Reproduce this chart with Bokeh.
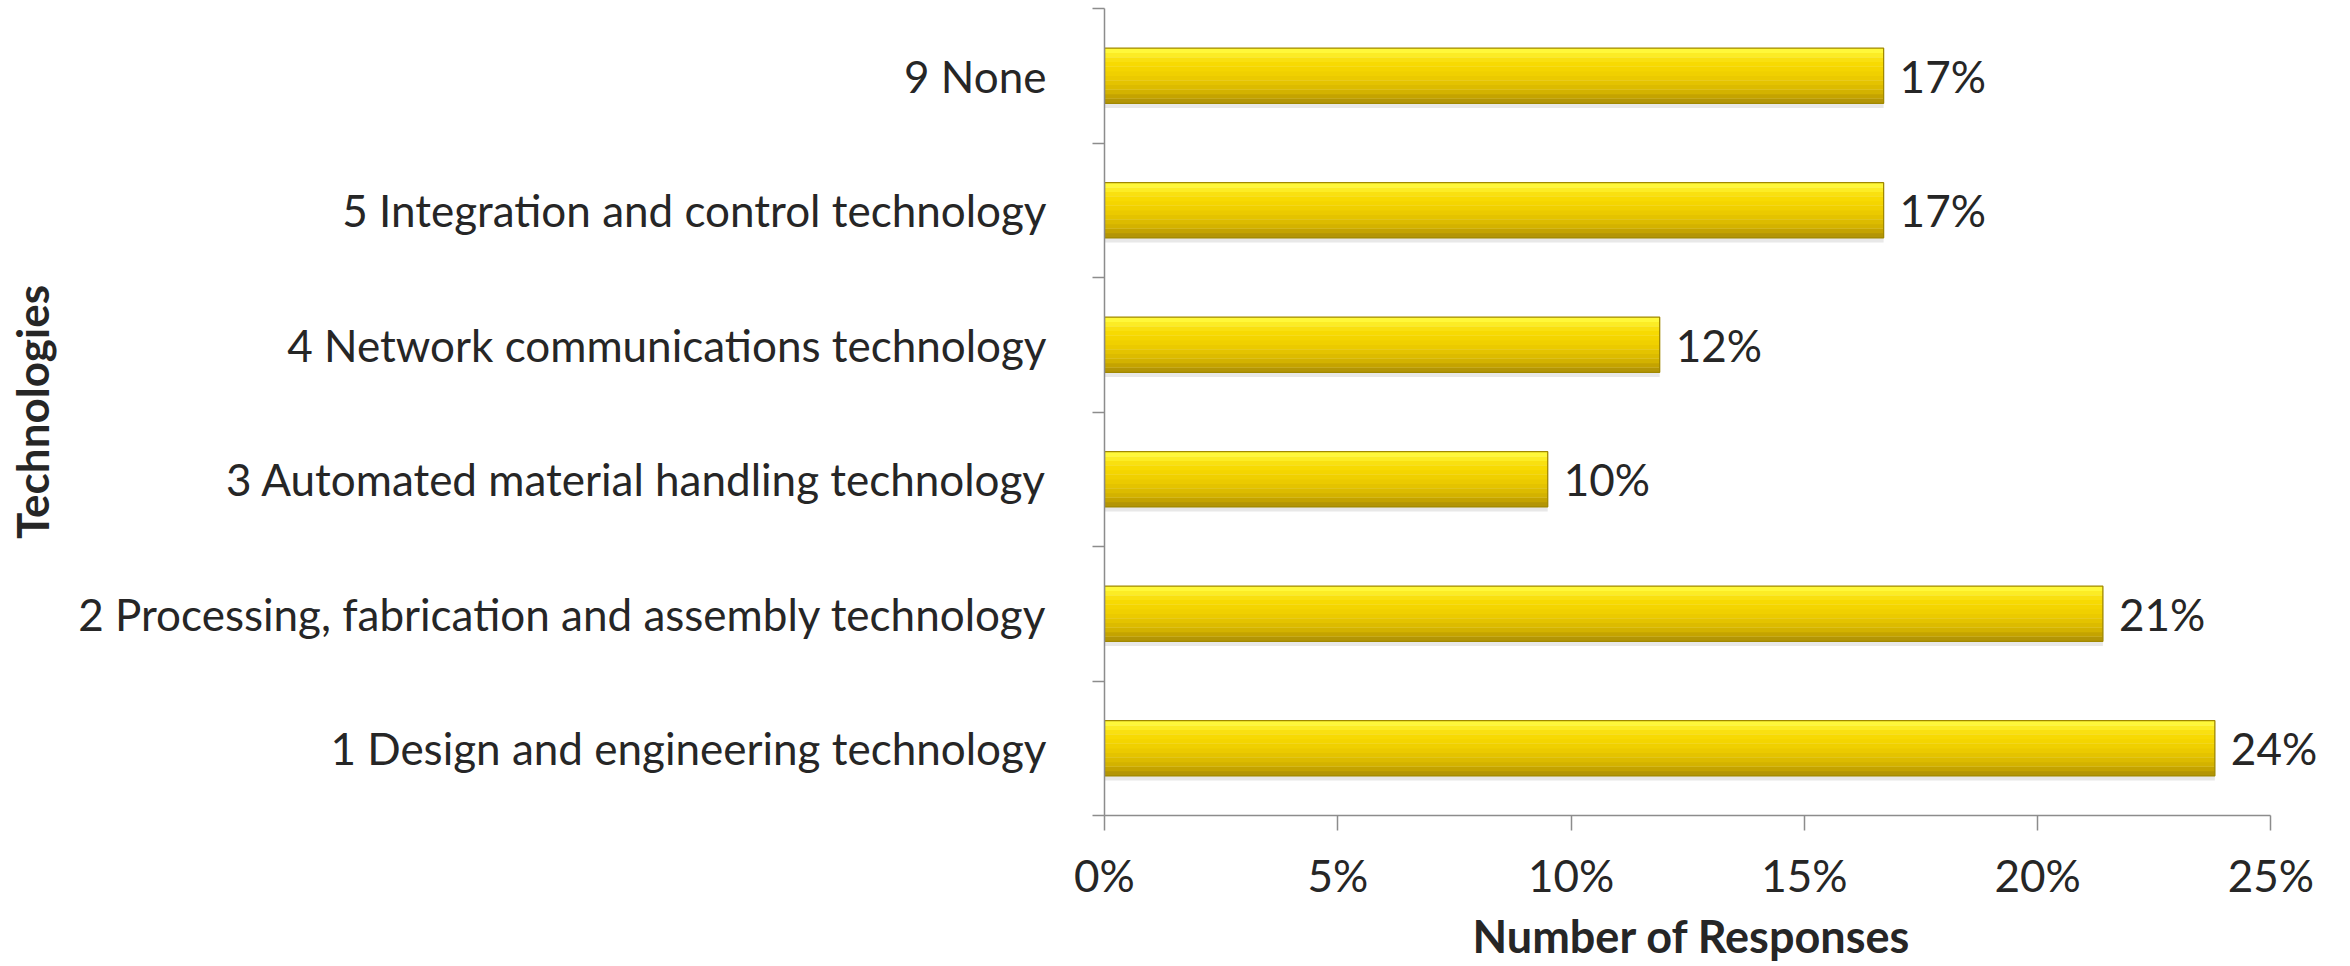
from bokeh.plotting import figure
from bokeh.models import Range1d, FixedTicker, ColumnDataSource, LabelSet, Title
from bokeh.core.properties import value
from bokeh.embed import file_html
from bokeh.resources import INLINE

# ---- data ----
categories = [
    "1 Design and engineering technology",
    "2 Processing, fabrication and assembly technology",
    "3 Automated material handling technology",
    "4 Network communications technology",
    "5 Integration and control technology",
    "9 None",
]
values = [23.8, 21.4, 9.5, 11.9, 16.7, 16.7]
value_labels = ["24%", "21%", "10%", "12%", "17%", "17%"]
x_ticks = [0, 5, 10, 15, 20, 25]
x_tick_labels = ["0%", "5%", "10%", "15%", "20%", "25%"]
x_title = "Number of Responses"
y_title = "Technologies"

FONT = "Lato"
TXT = "#262626"
AX = "#8c8c8c"
FS = "44px"

n = len(categories)
centers = [i + 0.5 for i in range(n)]
bounds = [float(i) for i in range(n + 1)]

XMAX = 26.0
AXIS_END = 25.0
FW25 = 1166
p = figure(
    output_backend="svg", toolbar_location=None,
    frame_width=round(FW25 * XMAX / AXIS_END), frame_height=807,
    min_border_left=1104, min_border_right=20, min_border_top=8, min_border_bottom=10,
    x_range=Range1d(0, XMAX), y_range=Range1d(0, n),
    background_fill_color="white", border_fill_color="white",
)
p.outline_line_color = None
p.xgrid.grid_line_color = None
p.ygrid.grid_line_color = None

# bar shadow
H = 0.41
p.hbar(y=[c - 0.035 for c in centers], right=values, left=0, height=H,
       fill_color="#d9d9d9", fill_alpha=0.6, line_color=None)

# gradient bars built from thin strips
grad = ["#b39505", "#c4a300", "#d3b200", "#dcbb00", "#e4c300", "#ebca00",
        "#f0d000", "#f4d500", "#f7da02", "#f9e010", "#fcec25", "#fff83a"]
N = len(grad)
for k, col in enumerate(grad):
    ys = [c - H / 2 + (k + 0.5) * H / N for c in centers]
    p.hbar(y=ys, right=values, left=0, height=H / N + 0.002,
           fill_color=col, line_color=None)
p.hbar(y=centers, right=values, left=0, height=H,
       fill_color=None, line_color="#a08800", line_width=1.3)

# value labels
src = ColumnDataSource(dict(x=values, y=centers, t=value_labels))
p.add_layout(LabelSet(x="x", y="y", text="t", source=src, x_offset=16,
                      text_baseline="middle", text_align="left",
                      text_font=value(FONT), text_font_size=FS,
                      text_color=TXT))

# x axis
xa = p.xaxis[0]
xa.bounds = (0, AXIS_END)
xa.ticker = FixedTicker(ticks=x_ticks)
xa.major_label_overrides = {t: l for t, l in zip(x_ticks, x_tick_labels)}
xa.major_tick_out = 15
xa.major_tick_in = 0
xa.minor_tick_line_color = None
xa.axis_line_color = AX
xa.major_tick_line_color = AX
xa.axis_line_width = 1.5
xa.major_tick_line_width = 1.5
xa.major_label_text_font = FONT
xa.major_label_text_font_size = FS
xa.major_label_text_color = TXT
xa.major_label_standoff = 18

# x title placed under the middle of the 0-25% axis
p.add_layout(Title(text=x_title, align="left", offset=368,
                   text_font=FONT, text_font_size="45px", text_font_style="bold",
                   text_color=TXT, standoff=6), "below")

# y axis: labels at centers, ticks at boundaries (minor)
ya = p.yaxis[0]
ya.ticker = FixedTicker(ticks=centers, minor_ticks=bounds)
ya.major_label_overrides = {c: l for c, l in zip(centers, categories)}
ya.major_tick_line_color = None
ya.major_tick_out = 0
ya.major_tick_in = 0
ya.minor_tick_out = 12
ya.minor_tick_in = 0
ya.minor_tick_line_color = AX
ya.minor_tick_line_width = 1.5
ya.axis_line_color = AX
ya.axis_line_width = 1.5
ya.major_label_text_font = FONT
ya.major_label_text_font_size = FS
ya.major_label_text_color = TXT
ya.major_label_standoff = 46
ya.axis_label = y_title
ya.axis_label_text_font = FONT
ya.axis_label_text_font_size = "44px"
ya.axis_label_text_font_style = "bold"
ya.axis_label_text_color = TXT
ya.axis_label_standoff = 17

open("out.html", "w").write(file_html(p, INLINE))
